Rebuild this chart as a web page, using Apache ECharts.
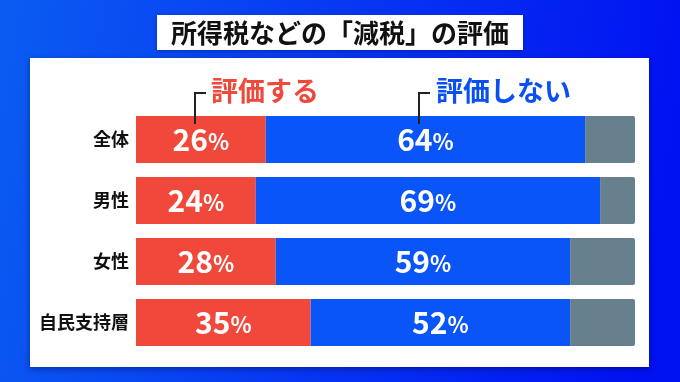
<!DOCTYPE html>
<html><head><meta charset="utf-8">
<script src="https://cdn.jsdelivr.net/npm/echarts@6/dist/echarts.min.js"></script>
<style>html,body{margin:0;padding:0;background:#0a3cf0}#c{width:680px;height:382px}</style>
</head><body><div id="c"></div>
<script>
const categories = ['全体', '男性', '女性', '自民支持層'];
const positive = [26, 24, 28, 35];   // 評価する
const negative = [64, 69, 59, 52];   // 評価しない
const other = [10, 7, 13, 13];       // その他・無回答
const seriesNames = ['評価する', '評価しない'];
const title = '所得税などの「減税」の評価';

const FONT = '"Noto Sans CJK JP", "Noto Sans", sans-serif';
const chart = echarts.init(document.getElementById('c'), null, {renderer: 'canvas'});

const pctLabel = {
  show: true, position: 'inside', color: '#fff',
  formatter: p => '{n|' + p.value + '}{p|%}',
  rich: {
    n: {fontSize: 30, fontWeight: 'bold', fontFamily: FONT, color: '#fff'},
    p: {fontSize: 22, fontWeight: 'bold', fontFamily: FONT, color: '#fff', padding: [4, 0, 0, 0]}
  }
};

chart.setOption({
  animation: false,
  backgroundColor: {
    type: 'linear', x: 0, y: 0, x2: 1, y2: 0.3,
    colorStops: [{offset: 0, color: '#0b5cf2'}, {offset: 0.6, color: '#0630f2'}, {offset: 1, color: '#0012f2'}]
  },
  graphic: [
    {type: 'rect', z: -10, shape: {x: 30, y: 58, width: 619, height: 309},
     style: {fill: '#fff', shadowBlur: 6, shadowColor: 'rgba(0,0,40,0.4)', shadowOffsetY: 2}},
    {type: 'rect', z: -10, shape: {x: 157, y: 15, width: 366, height: 35},
     style: {fill: '#fff', shadowBlur: 4, shadowColor: 'rgba(0,0,40,0.35)', shadowOffsetY: 1}},
    {type: 'text', z: 10, x: 340, y: 33,
     style: {text: title, fill: '#111', font: 'bold 26px ' + FONT, align: 'center', verticalAlign: 'middle'}},
    {type: 'text', z: 10, x: 211, y: 91,
     style: {text: seriesNames[0], fill: '#f0483a', font: 'bold 27px ' + FONT, align: 'left', verticalAlign: 'middle'}},
    {type: 'text', z: 10, x: 436, y: 91,
     style: {text: seriesNames[1], fill: '#0a50f0', font: 'bold 27px ' + FONT, align: 'left', verticalAlign: 'middle'}},
    {type: 'polyline', z: 10, shape: {points: [[206, 93], [195, 93], [195, 124]]},
     style: {stroke: '#222', lineWidth: 2, fill: null}},
    {type: 'polyline', z: 10, shape: {points: [[430, 93], [419, 93], [419, 124]]},
     style: {stroke: '#222', lineWidth: 2, fill: null}}
  ],
  grid: {left: 136, right: 45, top: 109, bottom: 29, containLabel: false},
  xAxis: {type: 'value', min: 0, max: 100, show: false},
  yAxis: {
    type: 'category', data: categories, inverse: true,
    axisLine: {show: false}, axisTick: {show: false}, splitLine: {show: false},
    axisLabel: {color: '#111', fontSize: 18, fontWeight: 'bold', fontFamily: FONT, margin: 7}
  },
  series: [
    {name: seriesNames[0], type: 'bar', stack: 's', data: positive, barWidth: 47,
     itemStyle: {color: '#f0483a'}, label: pctLabel},
    {name: seriesNames[1], type: 'bar', stack: 's', data: negative, barWidth: 47,
     itemStyle: {color: '#0a55f7'}, label: pctLabel},
    {name: 'その他', type: 'bar', stack: 's', data: other, barWidth: 47,
     itemStyle: {color: '#66808e', borderRadius: [0, 2, 2, 0]}}
  ]
});
</script></body></html>
